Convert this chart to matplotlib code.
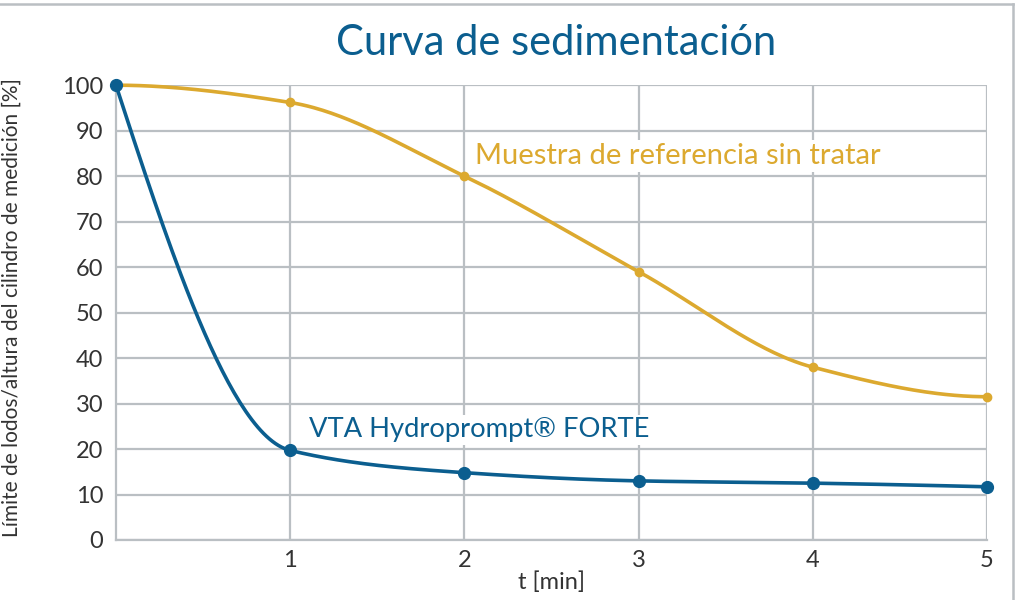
import numpy as np
import matplotlib.pyplot as plt
from matplotlib.lines import Line2D

plt.rcParams['font.family'] = ['Lato', 'DejaVu Sans']

# data
t_min = [0, 1, 2, 3, 4, 5]
vta_forte = [100, 19.7, 14.8, 13.0, 12.5, 11.7]
referencia = [100, 96.2, 80.0, 59.0, 38.0, 31.5]

x_ticks = [1, 2, 3, 4, 5]
y_ticks = [0, 10, 20, 30, 40, 50, 60, 70, 80, 90, 100]

BLUE = '#0b5e8f'
GOLD = '#dca92f'
GRID = '#babfc3'
TEXT = '#333333'


def pchip(x, y, n=60):
    """monotone cubic curve through the points (Fritsch-Carlson)"""
    x = np.asarray(x, float)
    y = np.asarray(y, float)
    h = np.diff(x)
    d = np.diff(y) / h
    m = np.zeros_like(y)
    for k in range(1, len(x) - 1):
        if d[k - 1] * d[k] > 0:
            w1 = 2 * h[k] + h[k - 1]
            w2 = h[k] + 2 * h[k - 1]
            m[k] = (w1 + w2) / (w1 / d[k - 1] + w2 / d[k])
    for j in [0, -1]:
        hh0, hh1 = (h[0], h[1]) if j == 0 else (h[-1], h[-2])
        dd0, dd1 = (d[0], d[1]) if j == 0 else (d[-1], d[-2])
        e = ((2 * hh0 + hh1) * dd0 - hh0 * dd1) / (hh0 + hh1)
        if np.sign(e) != np.sign(dd0):
            e = 0
        elif np.sign(dd0) != np.sign(dd1) and abs(e) > abs(3 * dd0):
            e = 3 * dd0
        m[j] = e
    xs, ys = [], []
    for k in range(len(x) - 1):
        s = np.linspace(0, 1, n)
        h00 = 2 * s**3 - 3 * s**2 + 1
        h10 = s**3 - 2 * s**2 + s
        h01 = -2 * s**3 + 3 * s**2
        h11 = s**3 - s**2
        xs.append(x[k] + s * h[k])
        ys.append(h00 * y[k] + h10 * h[k] * m[k] + h01 * y[k + 1] + h11 * h[k] * m[k + 1])
    return np.concatenate(xs), np.concatenate(ys)


fig = plt.figure(figsize=(10.2, 6), dpi=100)
ax = fig.add_axes([0.1137, 0.1, 0.854, 0.758])

ax.set_xlim(0, 5)
ax.set_ylim(0, 100)
ax.set_xticks(x_ticks)
ax.set_yticks(y_ticks)
ax.grid(True, color=GRID, linewidth=1.6)
ax.set_axisbelow(True)
for side in ['top', 'right']:
    ax.spines[side].set_visible(False)
for side in ['left', 'bottom']:
    ax.spines[side].set_color(GRID)
    ax.spines[side].set_linewidth(1.6)
ax.tick_params(length=0, labelsize=17, colors=TEXT)
ax.tick_params(axis='y', pad=9)
ax.tick_params(axis='x', pad=7)

xr, yr = pchip(t_min, referencia)
ax.plot(xr, yr, color=GOLD, linewidth=2.6, clip_on=False, zorder=3)
ax.plot(t_min, referencia, 'o', color=GOLD, markersize=6, clip_on=False, zorder=4)

xb, yb = pchip(t_min, vta_forte)
ax.plot(xb, yb, color=BLUE, linewidth=2.6, clip_on=False, zorder=5)
ax.plot(t_min, vta_forte, 'o', color=BLUE, markersize=8.5, clip_on=False, zorder=6)

box = dict(facecolor='white', edgecolor='none', pad=2)
ax.text(2.06, 84.5, 'Muestra de referencia sin tratar', color=GOLD, fontsize=21,
        va='center', ha='left', bbox=box, zorder=7)
ax.text(1.11, 24.2, 'VTA Hydroprompt® FORTE', color=BLUE, fontsize=19.7,
        va='center', ha='left', bbox=box, zorder=7)

ax.set_xlabel('t [min]', fontsize=17, color=TEXT)
ax.xaxis.set_label_coords(0.5, -0.068)
ax.set_ylabel('Límite de lodos/altura del cilindro de medición [%]', fontsize=15,
              color=TEXT)
ax.yaxis.set_label_coords(-0.108, 0.512)

fig.text(0.545, 0.928, 'Curva de sedimentación', fontsize=30, color=BLUE,
         ha='center', va='center')

# outer frame (top and right)
fig.add_artist(Line2D([0, 0.993], [0.994, 0.994], color=GRID, linewidth=1.8))
fig.add_artist(Line2D([0.993, 0.993], [0, 0.994], color=GRID, linewidth=1.8))

fig.savefig('out.png', dpi=100)
